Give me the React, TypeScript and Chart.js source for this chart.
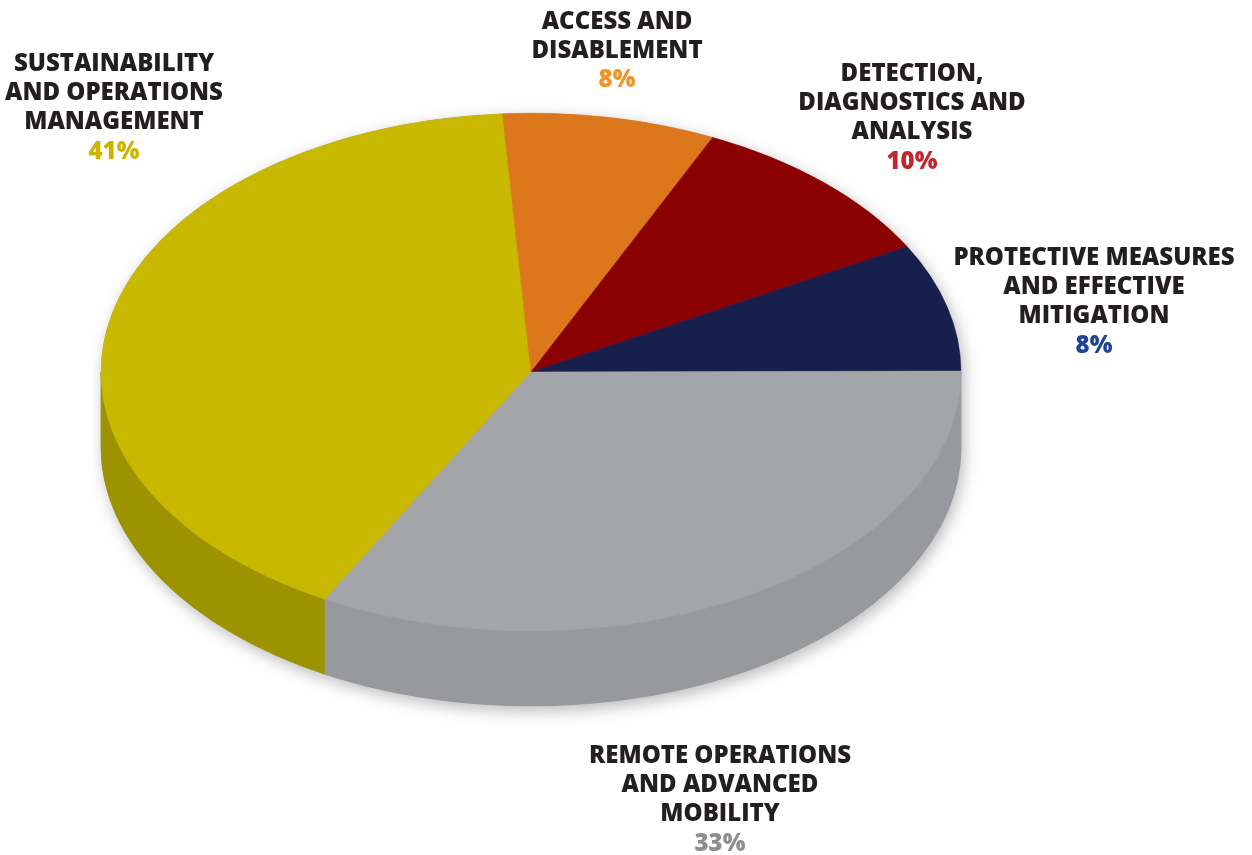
import React, { useEffect, useRef } from "react";
import { Chart, registerables } from "chart.js";

Chart.register(...registerables);

// ---- data ----
const categories = [
  "Sustainability and Operations Management",
  "Access and Disablement",
  "Detection, Diagnostics and Analysis",
  "Protective Measures and Effective Mitigation",
  "Remote Operations and Advanced Mobility",
];
const shares = [41, 8, 10, 8, 33];
const labelLines = [
  ["SUSTAINABILITY", "AND OPERATIONS", "MANAGEMENT"],
  ["ACCESS AND", "DISABLEMENT"],
  ["DETECTION,", "DIAGNOSTICS AND", "ANALYSIS"],
  ["PROTECTIVE MEASURES", "AND EFFECTIVE", "MITIGATION"],
  ["REMOTE OPERATIONS", "AND ADVANCED", "MOBILITY"],
];

// ---- styles / layout ----
const topColors = ["#c8b900", "#dc771c", "#8b0000", "#17204d", "#a4a5a9"];
const sideColors = ["#9d9300", "#b05d12", "#6a0000", "#10173a", "#98999d"];
const percentColors = ["#cdb400", "#f39325", "#c1272d", "#1f4196", "#8e8e8e"];
const labelAnchors = [
  [114, 64],
  [617, 22],
  [912, 74],
  [1094, 258],
  [720, 756],
];
const TILT = 0.602;
const DEPTH = 75;
const LINE_H = 29.3;
const FONT_PX = 24;
const START_DEG = 208.6;

const pie3d = {
  id: "pie3d",
  beforeDatasetsDraw(chart: any) {
    const ctx = chart.ctx as CanvasRenderingContext2D;
    const arcs = chart.getDatasetMeta(0).data;
    if (!arcs.length) return;
    const p0 = arcs[0].getProps(["x", "y", "outerRadius"], true);
    const cx = p0.x, cy = p0.y, r = p0.outerRadius, ry = r * TILT;

    // soft drop shadow of the whole disc
    ctx.save();
    ctx.shadowColor = "rgba(0,0,0,0.28)";
    ctx.shadowBlur = 16;
    ctx.shadowOffsetX = 3;
    ctx.shadowOffsetY = 5;
    ctx.fillStyle = "#999";
    ctx.beginPath();
    ctx.ellipse(cx, cy, r, ry, 0, Math.PI, 2 * Math.PI);
    ctx.ellipse(cx, cy + DEPTH, r, ry, 0, 0, Math.PI);
    ctx.closePath();
    ctx.fill();
    ctx.restore();

    // side walls
    arcs.forEach((arc: any, i: number) => {
      const { startAngle, endAngle } = arc.getProps(["startAngle", "endAngle"], true);
      for (let k = -2; k <= 2; k++) {
        const lo = Math.max(startAngle, 2 * Math.PI * k);
        const hi = Math.min(endAngle, Math.PI + 2 * Math.PI * k);
        if (hi - lo > 0.005) {
          ctx.save();
          ctx.beginPath();
          ctx.ellipse(cx, cy, r, ry, 0, lo, hi);
          ctx.ellipse(cx, cy + DEPTH, r, ry, 0, hi, lo, true);
          ctx.closePath();
          ctx.fillStyle = sideColors[i];
          ctx.strokeStyle = sideColors[i];
          ctx.lineWidth = 0.8;
          ctx.fill();
          ctx.stroke();
          ctx.restore();
        }
      }
    });

    // squash the top face
    ctx.save();
    ctx.translate(0, cy);
    ctx.scale(1, TILT);
    ctx.translate(0, -cy);
  },
  afterDatasetsDraw(chart: any) {
    chart.ctx.restore();
  },
};

const labelsPlugin = {
  id: "pieLabels",
  afterDraw(chart: any) {
    const ctx = chart.ctx as CanvasRenderingContext2D;
    ctx.save();
    ctx.textAlign = "center";
    ctx.textBaseline = "middle";
    ctx.font = `800 ${FONT_PX}px "Open Sans", "DejaVu Sans", sans-serif`;
    labelLines.forEach((lines, i) => {
      const [x, y] = labelAnchors[i];
      ctx.fillStyle = "#231f20";
      lines.forEach((t, j) => ctx.fillText(t, x, y + j * LINE_H));
      ctx.fillStyle = percentColors[i];
      ctx.fillText(`${shares[i]}%`, x, y + lines.length * LINE_H);
    });
    ctx.restore();
  },
};

export default function App() {
  const ref = useRef<HTMLCanvasElement | null>(null);
  useEffect(() => {
    if (!ref.current) return;
    const chart = new Chart(ref.current, {
      type: "pie",
      data: {
        labels: categories,
        datasets: [
          {
            data: shares,
            backgroundColor: topColors,
            borderColor: topColors,
            borderWidth: 0.6,
            radius: 430,
            clip: false as any,
          } as any,
        ],
      },
      options: {
        responsive: false,
        animation: false,
        rotation: START_DEG,
        layout: { padding: { left: 0, right: 190, top: 0, bottom: 111 } },
        plugins: {
          legend: { display: false },
          tooltip: { enabled: false },
          title: { display: false },
        },
        events: [],
      },
      plugins: [pie3d, labelsPlugin],
    });
    return () => chart.destroy();
  }, []);
  return (
    <div style={{ position: "absolute", left: 0, top: 0, width: 1252, height: 855, background: "#fff" }}>
      <canvas ref={ref} width={1252} height={855} />
    </div>
  );
}
